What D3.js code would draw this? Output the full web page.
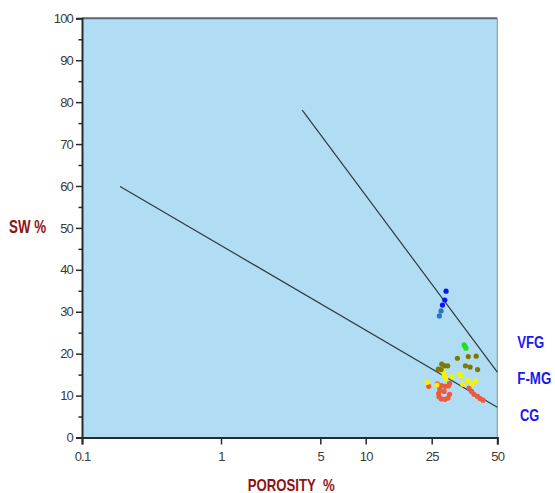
<!DOCTYPE html>
<html>
<head>
<meta charset="utf-8">
<script src="https://cdn.jsdelivr.net/npm/d3@7/dist/d3.min.js"></script>
<style>
  html, body { margin: 0; padding: 0; background: #fff; }
  svg { display: block; }
  text { font-family: "Liberation Sans", Arial, sans-serif; }
</style>
</head>
<body>
<svg id="chart" width="555" height="493"></svg>
<script>
// ---- data ----
const xTickValues = [0.1, 1, 5, 10, 25, 50];
const yTickValues = [0, 10, 20, 30, 40, 50, 60, 70, 80, 90, 100];
const yMinorTicks = [5, 15, 25, 35, 45, 55, 65, 75, 85, 95];

// [porosity %, SW %]
const bluePoints = [[29.1, 34.9], [28.7, 32.8], [28.0, 31.6]];
const steelPoints = [[27.6, 30.2], [27.1, 29.0]];
const greenPoints = [[35.2, 22.1], [35.6, 21.7], [35.9, 21.3]];
const olivePoints = [
  [32.8, 18.9], [36.8, 19.3], [40.0, 19.4], [35.7, 17.1], [37.5, 16.8], [40.6, 16.2],
  [27.8, 17.5], [28.7, 17.1], [29.6, 17.1], [26.8, 16.3], [27.6, 16.2]
];
const yellowPoints = [
  [23.5, 13.2], [26.4, 12.5], [28.2, 15.7], [28.4, 15.5], [28.6, 14.7], [29.0, 14.1],
  [30.9, 14.5], [33.5, 15.1], [34.1, 14.7], [36.7, 13.6], [39.8, 13.5], [34.7, 12.7], [38.3, 12.7]
];
const redPoints = [
  [24.0, 12.2], [26.5, 12.8], [27.1, 12.1], [27.7, 12.4], [28.8, 12.2], [29.8, 12.3],
  [30.2, 12.9], [27.3, 11.3], [26.9, 10.5], [27.0, 9.7], [27.7, 9.2], [28.8, 9.1],
  [29.7, 9.4], [30.2, 10.3], [28.5, 11.0],
  [37.1, 11.8], [38.1, 11.0], [39.1, 10.3], [40.6, 9.8], [41.7, 9.3], [43.0, 8.9]
];
const lowerLine = [[0.188, 59.9], [50, 7.2]];
const upperLine = [[3.73, 78.1], [50, 15.6]];
const zoneLabels = ["VFG", "F-MG", "CG"];
const zoneLabelSW = [21.3, 12.7, 4.0];

// ---- layout ----
const svg = d3.select("#chart");
const L = 82, R = 497.3, T = 18.3, B = 437.5;

// the original axis spaces its tick values unevenly: piecewise log scale
const x = d3.scaleLog()
  .domain(xTickValues)
  .range([L, 221, 320.3, 365.7, 431.7, R]);
const y = d3.scaleLinear().domain([0, 100]).range([B, T]);

// plot background
svg.append("rect")
  .attr("x", L).attr("y", T)
  .attr("width", R - L).attr("height", B - T)
  .attr("fill", "#b0ddf4");

// top and right border
svg.append("line").attr("x1", L).attr("x2", R).attr("y1", T).attr("y2", T)
  .attr("stroke", "#56687a").attr("stroke-width", 2);
svg.append("line").attr("x1", R).attr("x2", R).attr("y1", T).attr("y2", B)
  .attr("stroke", "#8a9096").attr("stroke-width", 1);

// lines
const lineGen = d3.line().x(d => x(d[0])).y(d => y(d[1]));
[lowerLine, upperLine].forEach(l => {
  svg.append("path").attr("d", lineGen(l))
    .attr("fill", "none").attr("stroke", "#2e3a44").attr("stroke-width", 1.2);
});

// points
const series = [
  [redPoints, "#ee5a3c"],
  [yellowPoints, "#f4f400"],
  [olivePoints, "#807800"],
  [greenPoints, "#22e022"],
  [steelPoints, "#2a74b8"],
  [bluePoints, "#0a14f5"]
];
series.forEach(([pts, col]) => {
  svg.append("g").selectAll("circle").data(pts).join("circle")
    .attr("cx", d => x(d[0])).attr("cy", d => y(d[1]))
    .attr("r", 2.6).attr("fill", col);
});

// y axis
const yAxis = svg.append("g").attr("transform", `translate(${L},0)`)
  .call(d3.axisLeft(y).tickValues(yTickValues).tickSize(6).tickPadding(3).tickFormat(d3.format("d")));
yAxis.selectAll(".tick text")
  .attr("fill", "#3a3a3a").style("font-size", "13px").attr("letter-spacing", "-0.8");
yAxis.selectAll(".tick line").attr("stroke", "#2a2a2a").attr("stroke-width", 1.5);
yAxis.select(".domain").attr("stroke", "#2a2a2a").attr("stroke-width", 2);
svg.append("g").attr("transform", `translate(${L},0)`)
  .call(d3.axisLeft(y).tickValues(yMinorTicks).tickSize(3.5).tickFormat(""))
  .call(g => g.select(".domain").remove())
  .selectAll(".tick line").attr("stroke", "#2a2a2a").attr("stroke-width", 1.5);

// x axis
const xAxis = svg.append("g").attr("transform", `translate(0,${B})`)
  .call(d3.axisBottom(x).tickValues(xTickValues).tickSize(7).tickPadding(7)
    .tickFormat(d => d < 1 ? d3.format(".1f")(d) : d3.format("d")(d)));
xAxis.selectAll(".tick text")
  .attr("fill", "#3a3a3a").style("font-size", "13px").attr("letter-spacing", "-0.8");
xAxis.selectAll(".tick line").attr("stroke", "#2a2a2a").attr("stroke-width", 1.5);
xAxis.select(".domain").attr("stroke", "#2a2a2a").attr("stroke-width", 2);

// axis titles
svg.append("text").attr("x", 9).attr("y", 232.5)
  .attr("textLength", 37).attr("lengthAdjust", "spacingAndGlyphs")
  .attr("fill", "#8b1414").style("font-size", "18px").style("font-weight", "bold")
  .text("SW %");
svg.append("text").attr("x", 247.7).attr("y", 490.5)
  .attr("textLength", 87).attr("lengthAdjust", "spacingAndGlyphs")
  .attr("fill", "#8b1414").style("font-size", "17px").style("font-weight", "bold")
  .attr("xml:space", "preserve")
  .text("POROSITY  %");

// zone labels
const zoneX = [517.3, 517.3, 520];
const zoneW = [27, 34, 19.3];
zoneLabels.forEach((t, i) => {
  svg.append("text").attr("x", zoneX[i]).attr("y", y(zoneLabelSW[i]))
    .attr("textLength", zoneW[i]).attr("lengthAdjust", "spacingAndGlyphs")
    .attr("fill", "#1a1af0").style("font-size", "16px").style("font-weight", "bold")
    .text(t);
});
</script>
</body>
</html>
